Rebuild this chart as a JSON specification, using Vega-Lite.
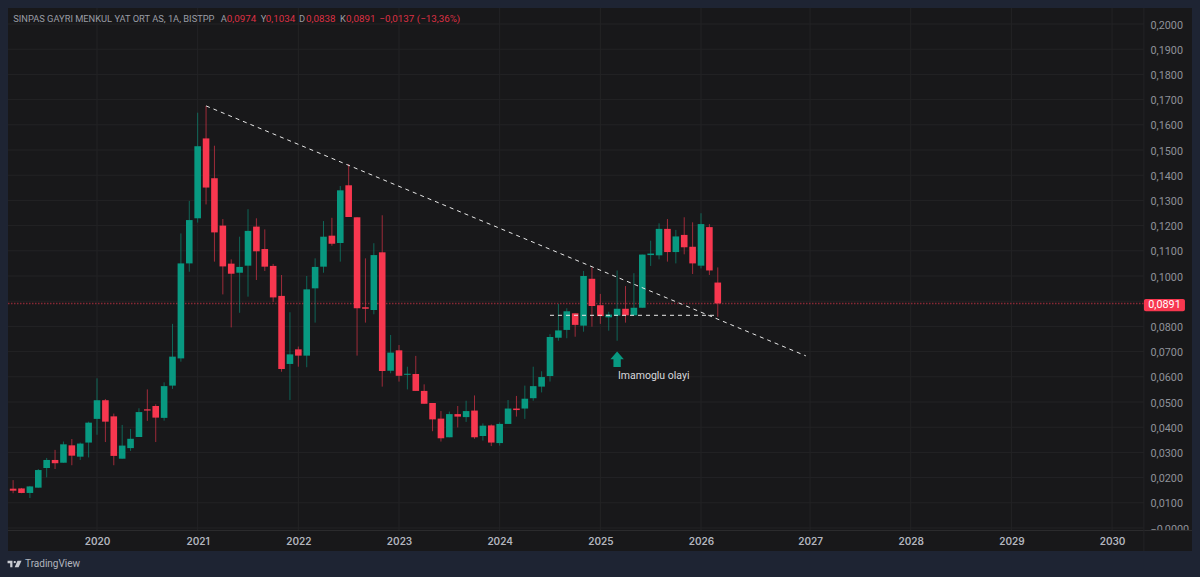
{
  "$schema": "https://vega.github.io/schema/vega-lite/v6.json",
  "description": "SINPAS GYO monthly candles, BISTPP",
  "width": 1184,
  "height": 543,
  "autosize": {"type": "none"},
  "padding": {"left": 8, "top": 8, "right": 8, "bottom": 26},
  "background": "#1e2433",
  "config": {
    "view": {"fill": "#18181a", "stroke": null},
    "text": {"font": "Roboto"},
    "axis": {"labelFont": "Roboto", "labelOverlap": false}
  },
  "datasets": {
    "candles": [
      {"m":"2019-03","i":-10,"o":0.0156,"h":0.0190,"l":0.0138,"c":0.0148},
      {"m":"2019-04","i":-9,"o":0.0157,"h":0.0159,"l":0.0138,"c":0.0139},
      {"m":"2019-05","i":-8,"o":0.0139,"h":0.0167,"l":0.0119,"c":0.0165},
      {"m":"2019-06","i":-7,"o":0.0160,"h":0.0234,"l":0.0160,"c":0.0230},
      {"m":"2019-07","i":-6,"o":0.0238,"h":0.0278,"l":0.0201,"c":0.0270},
      {"m":"2019-08","i":-5,"o":0.0270,"h":0.0310,"l":0.0234,"c":0.0257},
      {"m":"2019-09","i":-4,"o":0.0259,"h":0.0343,"l":0.0259,"c":0.0332},
      {"m":"2019-10","i":-3,"o":0.0328,"h":0.0353,"l":0.0249,"c":0.0287},
      {"m":"2019-11","i":-2,"o":0.0283,"h":0.0339,"l":0.0270,"c":0.0335},
      {"m":"2019-12","i":-1,"o":0.0339,"h":0.0422,"l":0.0280,"c":0.0418},
      {"m":"2020-01","i":0,"o":0.0433,"h":0.0594,"l":0.0370,"c":0.0507},
      {"m":"2020-02","i":1,"o":0.0507,"h":0.0512,"l":0.0341,"c":0.0422},
      {"m":"2020-03","i":2,"o":0.0443,"h":0.0454,"l":0.0249,"c":0.0286},
      {"m":"2020-04","i":3,"o":0.0275,"h":0.0409,"l":0.0275,"c":0.0327},
      {"m":"2020-05","i":4,"o":0.0317,"h":0.0393,"l":0.0306,"c":0.0354},
      {"m":"2020-06","i":5,"o":0.0361,"h":0.0475,"l":0.0361,"c":0.0460},
      {"m":"2020-07","i":6,"o":0.0471,"h":0.0550,"l":0.0425,"c":0.0466},
      {"m":"2020-08","i":7,"o":0.0484,"h":0.0491,"l":0.0341,"c":0.0438},
      {"m":"2020-09","i":8,"o":0.0437,"h":0.0578,"l":0.0426,"c":0.0563},
      {"m":"2020-10","i":9,"o":0.0565,"h":0.0810,"l":0.0552,"c":0.0680},
      {"m":"2020-11","i":10,"o":0.0673,"h":0.1169,"l":0.0660,"c":0.1050},
      {"m":"2020-12","i":11,"o":0.1050,"h":0.1298,"l":0.1017,"c":0.1222},
      {"m":"2021-01","i":12,"o":0.1229,"h":0.1648,"l":0.1212,"c":0.1515},
      {"m":"2021-02","i":13,"o":0.1546,"h":0.1675,"l":0.1284,"c":0.1351},
      {"m":"2021-03","i":14,"o":0.1388,"h":0.1517,"l":0.1057,"c":0.1173},
      {"m":"2021-04","i":15,"o":0.1200,"h":0.1226,"l":0.0927,"c":0.1038},
      {"m":"2021-05","i":16,"o":0.1049,"h":0.1066,"l":0.0796,"c":0.1009},
      {"m":"2021-06","i":17,"o":0.1013,"h":0.1156,"l":0.0854,"c":0.1036},
      {"m":"2021-07","i":18,"o":0.1041,"h":0.1265,"l":0.0918,"c":0.1179},
      {"m":"2021-08","i":19,"o":0.1196,"h":0.1229,"l":0.0984,"c":0.1098},
      {"m":"2021-09","i":20,"o":0.1107,"h":0.1185,"l":0.1020,"c":0.1037},
      {"m":"2021-10","i":21,"o":0.1040,"h":0.1048,"l":0.0897,"c":0.0915},
      {"m":"2021-11","i":22,"o":0.0921,"h":0.1004,"l":0.0620,"c":0.0631},
      {"m":"2021-12","i":23,"o":0.0651,"h":0.0856,"l":0.0508,"c":0.0689},
      {"m":"2022-01","i":24,"o":0.0709,"h":0.0720,"l":0.0640,"c":0.0684},
      {"m":"2022-02","i":25,"o":0.0684,"h":0.1000,"l":0.0638,"c":0.0947},
      {"m":"2022-03","i":26,"o":0.0951,"h":0.1070,"l":0.0815,"c":0.1036},
      {"m":"2022-04","i":27,"o":0.1037,"h":0.1218,"l":0.1013,"c":0.1156},
      {"m":"2022-05","i":28,"o":0.1160,"h":0.1231,"l":0.1120,"c":0.1128},
      {"m":"2022-06","i":29,"o":0.1131,"h":0.1357,"l":0.1057,"c":0.1340},
      {"m":"2022-07","i":30,"o":0.1360,"h":0.1444,"l":0.1234,"c":0.1234},
      {"m":"2022-08","i":31,"o":0.1233,"h":0.1233,"l":0.0684,"c":0.0872},
      {"m":"2022-09","i":32,"o":0.0876,"h":0.1070,"l":0.0815,"c":0.0870},
      {"m":"2022-10","i":33,"o":0.0865,"h":0.1130,"l":0.0848,"c":0.1083},
      {"m":"2022-11","i":34,"o":0.1094,"h":0.1241,"l":0.0561,"c":0.0623},
      {"m":"2022-12","i":35,"o":0.0624,"h":0.0766,"l":0.0614,"c":0.0696},
      {"m":"2023-01","i":36,"o":0.0705,"h":0.0726,"l":0.0581,"c":0.0604},
      {"m":"2023-02","i":37,"o":0.0608,"h":0.0640,"l":0.0550,"c":0.0612},
      {"m":"2023-03","i":38,"o":0.0611,"h":0.0683,"l":0.0544,"c":0.0544},
      {"m":"2023-04","i":39,"o":0.0544,"h":0.0570,"l":0.0493,"c":0.0493},
      {"m":"2023-05","i":40,"o":0.0496,"h":0.0496,"l":0.0384,"c":0.0431},
      {"m":"2023-06","i":41,"o":0.0434,"h":0.0464,"l":0.0343,"c":0.0356},
      {"m":"2023-07","i":42,"o":0.0360,"h":0.0462,"l":0.0360,"c":0.0452},
      {"m":"2023-08","i":43,"o":0.0452,"h":0.0484,"l":0.0399,"c":0.0442},
      {"m":"2023-09","i":44,"o":0.0440,"h":0.0505,"l":0.0421,"c":0.0464},
      {"m":"2023-10","i":45,"o":0.0466,"h":0.0526,"l":0.0354,"c":0.0360},
      {"m":"2023-11","i":46,"o":0.0365,"h":0.0415,"l":0.0347,"c":0.0406},
      {"m":"2023-12","i":47,"o":0.0407,"h":0.0411,"l":0.0325,"c":0.0339},
      {"m":"2024-01","i":48,"o":0.0337,"h":0.0419,"l":0.0327,"c":0.0413},
      {"m":"2024-02","i":49,"o":0.0413,"h":0.0508,"l":0.0413,"c":0.0474},
      {"m":"2024-03","i":50,"o":0.0474,"h":0.0524,"l":0.0442,"c":0.0468},
      {"m":"2024-04","i":51,"o":0.0474,"h":0.0565,"l":0.0433,"c":0.0513},
      {"m":"2024-05","i":52,"o":0.0515,"h":0.0640,"l":0.0505,"c":0.0563},
      {"m":"2024-06","i":53,"o":0.0561,"h":0.0622,"l":0.0538,"c":0.0599},
      {"m":"2024-07","i":54,"o":0.0603,"h":0.0769,"l":0.0581,"c":0.0758},
      {"m":"2024-08","i":55,"o":0.0755,"h":0.0889,"l":0.0743,"c":0.0784},
      {"m":"2024-09","i":56,"o":0.0786,"h":0.0872,"l":0.0753,"c":0.0860},
      {"m":"2024-10","i":57,"o":0.0852,"h":0.0852,"l":0.0759,"c":0.0806},
      {"m":"2024-11","i":58,"o":0.0803,"h":0.1020,"l":0.0779,"c":0.1000},
      {"m":"2024-12","i":59,"o":0.0989,"h":0.1034,"l":0.0799,"c":0.0881},
      {"m":"2025-01","i":60,"o":0.0884,"h":0.0929,"l":0.0810,"c":0.0841},
      {"m":"2025-02","i":61,"o":0.0836,"h":0.0858,"l":0.0783,"c":0.0847},
      {"m":"2025-03","i":62,"o":0.0843,"h":0.1022,"l":0.0743,"c":0.0870},
      {"m":"2025-04","i":63,"o":0.0870,"h":0.0960,"l":0.0815,"c":0.0844},
      {"m":"2025-05","i":64,"o":0.0844,"h":0.1011,"l":0.0844,"c":0.0874},
      {"m":"2025-06","i":65,"o":0.0874,"h":0.1085,"l":0.0874,"c":0.1085},
      {"m":"2025-07","i":66,"o":0.1083,"h":0.1140,"l":0.1040,"c":0.1089},
      {"m":"2025-08","i":67,"o":0.1082,"h":0.1209,"l":0.1066,"c":0.1187},
      {"m":"2025-09","i":68,"o":0.1187,"h":0.1226,"l":0.1057,"c":0.1095},
      {"m":"2025-10","i":69,"o":0.1095,"h":0.1183,"l":0.1050,"c":0.1157},
      {"m":"2025-11","i":70,"o":0.1163,"h":0.1233,"l":0.1086,"c":0.1114},
      {"m":"2025-12","i":71,"o":0.1116,"h":0.1213,"l":0.1008,"c":0.1050},
      {"m":"2026-01","i":72,"o":0.1041,"h":0.1249,"l":0.1030,"c":0.1206},
      {"m":"2026-02","i":73,"o":0.1194,"h":0.1206,"l":0.1004,"c":0.1022},
      {"m":"2026-03","i":74,"o":0.0974,"h":0.1034,"l":0.0838,"c":0.0891}
    ],
    "priceTicks": [
      {"v":0},{"v":0.01},{"v":0.02},{"v":0.03},{"v":0.04},{"v":0.05},{"v":0.06},{"v":0.07},{"v":0.08},{"v":0.09},{"v":0.10},
      {"v":0.11},{"v":0.12},{"v":0.13},{"v":0.14},{"v":0.15},{"v":0.16},{"v":0.17},{"v":0.18},{"v":0.19},{"v":0.20}
    ],
    "yearTicks": [
      {"i":0},{"i":12},{"i":24},{"i":36},{"i":48},{"i":60},{"i":72},{"i":85},{"i":97},{"i":109},{"i":121}
    ],
    "trend": [
      {"i":13.0,"v":0.1675,"line":"down"},
      {"i":84.5,"v":0.0683,"line":"down"},
      {"i":54.0,"v":0.0844,"line":"flat"},
      {"i":73.8,"v":0.0844,"line":"flat"}
    ]
  },
  "layer": [
    {
      "data": {"name": "priceTicks"},
      "mark": {"type": "rule", "color": "#232325", "strokeWidth": 1},
      "encoding": {
        "x": {
          "datum": -10.61,
          "type": "quantitative",
          "scale": {"domain": [-10.61, 130.53], "nice": false, "zero": false, "padding": 0},
          "axis": {
            "values": [0, 12, 24, 36, 48, 60, 72, 85, 97, 109, 121],
            "labelExpr": "datum.value <= 72 ? format(2020 + datum.value / 12, 'd') : format(2027 + (datum.value - 85) / 12, 'd')",
            "title": null,
            "grid": false,
            "domain": false,
            "ticks": false,
            "zindex": 1,
            "labelPadding": -15,
            "labelColor": "#b2b5be",
            "labelFontSize": 10,
            "labelFontWeight": 600,
            "labelFont": "Inter",
            "labelBound": false,
            "labelFlush": false,
            "labelOverlap": false
          }
        },
        "x2": {"datum": 124.8},
        "y": {
          "field": "v",
          "type": "quantitative",
          "scale": {"domain": [-0.00913, 0.20635], "nice": false, "zero": false, "padding": 0},
          "axis": {
            "orient": "right",
            "tickCount": 21,
            "values": [0, 0.01, 0.02, 0.03, 0.04, 0.05, 0.06, 0.07, 0.08, 0.1, 0.11, 0.12, 0.13, 0.14, 0.15, 0.16, 0.17, 0.18, 0.19, 0.2],
            "labelExpr": "datum.value == 0 ? '−0,0000' : replace(format(datum.value, '.4f'), '.', ',')",
            "title": null,
            "grid": false,
            "domain": false,
            "ticks": false,
            "labelAlign": "left",
            "labelPadding": -42,
            "labelOffset": 1.2,
            "labelColor": "#8f9299",
            "labelFontSize": 10.8,
            "labelFont": "Roboto",
            "labelBound": false,
            "labelFlush": false,
            "labelOverlap": false
          }
        }
      }
    },
    {
      "data": {"name": "yearTicks"},
      "mark": {"type": "rule", "color": "#232325", "strokeWidth": 1},
      "encoding": {
        "x": {"field": "i", "type": "quantitative"},
        "y": {"datum": -0.001, "type": "quantitative"},
        "y2": {"datum": 0.20635}
      }
    },
    {
      "data": {"values": [{"x0": -10.61, "x1": 130.53, "y0": -0.00913, "y1": -0.001}]},
      "mark": {"type": "rect", "color": "#18181a"},
      "encoding": {
        "x": {"field": "x0", "type": "quantitative"},
        "x2": {"field": "x1"},
        "y": {"field": "y0", "type": "quantitative"},
        "y2": {"field": "y1"}
      }
    },
    {
      "data": {"values": [{"edge": "axis"}]},
      "mark": {"type": "rule", "color": "#2b2b2d", "strokeWidth": 1},
      "encoding": {
        "x": {"datum": -10.61, "type": "quantitative"},
        "x2": {"datum": 130.53},
        "y": {"datum": -0.001, "type": "quantitative"}
      }
    },
    {
      "data": {"values": [{"edge": "scale"}]},
      "mark": {"type": "rule", "color": "#232325", "strokeWidth": 1},
      "encoding": {
        "x": {"datum": 124.8, "type": "quantitative"},
        "y": {"datum": -0.00913, "type": "quantitative"},
        "y2": {"datum": 0.20635}
      }
    },
    {
      "data": {"values": [{"last": 0.0891}]},
      "mark": {"type": "rule", "color": "#f7374f", "strokeWidth": 1.5, "strokeDash": [1.5, 1.5], "opacity": 0.5},
      "encoding": {
        "x": {"datum": -10.61, "type": "quantitative"},
        "x2": {"datum": 124.8},
        "y": {"field": "last", "type": "quantitative"}
      }
    },
    {
      "data": {"name": "candles"},
      "mark": {"type": "rule", "strokeWidth": 1, "opacity": 0.6},
      "encoding": {
        "x": {"field": "i", "type": "quantitative"},
        "y": {"field": "l", "type": "quantitative"},
        "y2": {"field": "h"},
        "color": {"condition": {"test": "datum.c < datum.o", "value": "#f7374f"}, "value": "#089981"}
      }
    },
    {
      "data": {"name": "candles"},
      "mark": {"type": "bar", "size": 6.6},
      "encoding": {
        "x": {"field": "i", "type": "quantitative"},
        "y": {"field": "o", "type": "quantitative"},
        "y2": {"field": "c"},
        "color": {"condition": {"test": "datum.c < datum.o", "value": "#f7374f"}, "value": "#089981"}
      }
    },
    {
      "data": {"name": "trend"},
      "mark": {"type": "line", "color": "#e8e8e8", "strokeWidth": 1, "strokeDash": [4, 4]},
      "encoding": {
        "x": {"field": "i", "type": "quantitative"},
        "y": {"field": "v", "type": "quantitative"},
        "detail": {"field": "line"}
      }
    },
    {
      "data": {"values": [{"i": 62, "v": 0.0669}]},
      "mark": {
        "type": "point",
        "filled": true,
        "opacity": 1,
        "size": 256,
        "color": "#089981",
        "shape": "M0,-1 L0.84,-0.02 L0.46,-0.02 L0.46,0.95 L-0.46,0.95 L-0.46,-0.02 L-0.84,-0.02 Z"
      },
      "encoding": {
        "x": {"field": "i", "type": "quantitative"},
        "y": {"field": "v", "type": "quantitative"}
      }
    },
    {
      "data": {"values": [{"i": 62.1, "v": 0.0602, "label": "Imamoglu olayi"}]},
      "mark": {"type": "text", "align": "left", "baseline": "middle", "fontSize": 10.5, "color": "#d8d9dc"},
      "encoding": {
        "x": {"field": "i", "type": "quantitative"},
        "y": {"field": "v", "type": "quantitative"},
        "text": {"field": "label"}
      }
    },
    {
      "data": {"values": [{"x0": 124.8, "x1": 129.69, "y0": 0.0860, "y1": 0.09087}]},
      "mark": {"type": "rect", "color": "#f7374f", "cornerRadius": 2},
      "encoding": {
        "x": {"field": "x0", "type": "quantitative"},
        "x2": {"field": "x1"},
        "y": {"field": "y0", "type": "quantitative"},
        "y2": {"field": "y1"}
      }
    },
    {
      "data": {"values": [{"i": 127.25, "v": 0.0885, "label": "0,0891"}]},
      "mark": {"type": "text", "align": "center", "baseline": "middle", "fontSize": 10.8, "color": "#ffffff"},
      "encoding": {
        "x": {"field": "i", "type": "quantitative"},
        "y": {"field": "v", "type": "quantitative"},
        "text": {"field": "label"}
      }
    },
    {
      "data": {"values": [
        {"i": -9.98, "label": "SINPAS GAYRI MENKUL YAT ORT AS, 1A, BISTPP"},
        {"i": 14.75, "label": "A"},
        {"i": 19.51, "label": "Y"},
        {"i": 24.08, "label": "D"},
        {"i": 28.97, "label": "K"}
      ]},
      "mark": {"type": "text", "align": "left", "baseline": "middle", "fontSize": 9.3, "color": "#9a9da5"},
      "encoding": {
        "x": {"field": "i", "type": "quantitative"},
        "y": {"datum": 0.2020, "type": "quantitative"},
        "text": {"field": "label"}
      }
    },
    {
      "data": {"values": [
        {"i": 15.46, "label": "0,0974"},
        {"i": 20.11, "label": "0,1034"},
        {"i": 24.91, "label": "0,0838"},
        {"i": 29.68, "label": "0,0891"},
        {"i": 33.65, "label": "−0,0137 (−13,36%)"}
      ]},
      "mark": {"type": "text", "align": "left", "baseline": "middle", "fontSize": 9.8, "color": "#dc3044"},
      "encoding": {
        "x": {"field": "i", "type": "quantitative"},
        "y": {"datum": 0.2020, "type": "quantitative"},
        "text": {"field": "label"}
      }
    },
    {
      "data": {"values": [{"i": -9.83, "v": -0.01429}]},
      "mark": {
        "type": "point",
        "filled": true,
        "opacity": 1,
        "size": 196,
        "color": "#c9cbd1",
        "shape": "M-1,-0.47 H-0.3 V0.47 H-0.62 V-0.12 H-1 Z M-0.14,-0.27 A0.17,0.17 0 1 1 0.2,-0.27 A0.17,0.17 0 1 1 -0.14,-0.27 Z M0.42,-0.47 H1 L0.58,0.47 H0.02 Z"
      },
      "encoding": {
        "x": {"field": "i", "type": "quantitative"},
        "y": {"field": "v", "type": "quantitative"}
      }
    },
    {
      "data": {"values": [{"i": -8.58, "v": -0.01429, "label": "TradingView"}]},
      "mark": {"type": "text", "align": "left", "baseline": "middle", "fontSize": 10, "color": "#b2b5be"},
      "encoding": {
        "x": {"field": "i", "type": "quantitative"},
        "y": {"field": "v", "type": "quantitative"},
        "text": {"field": "label"}
      }
    }
  ]
}
